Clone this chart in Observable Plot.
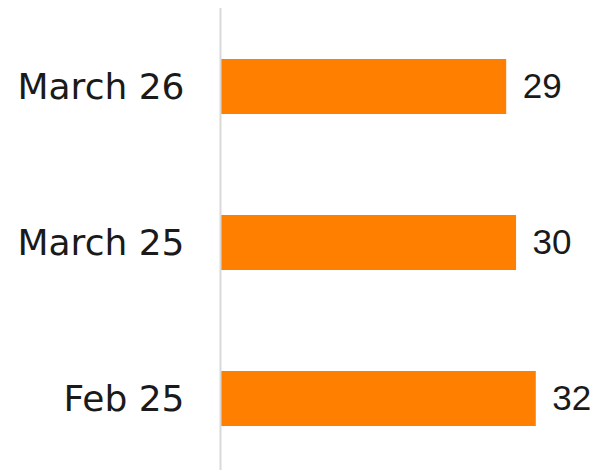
<!DOCTYPE html>
<html>
<head>
<meta charset="utf-8">
<script src="https://cdn.jsdelivr.net/npm/d3@7"></script>
<script src="https://cdn.jsdelivr.net/npm/@observablehq/plot@0.6"></script>
<style>
  html, body { margin: 0; padding: 0; background: #fff; }
</style>
</head>
<body>
<div id="chart"></div>
<script>
const categories = ["March 26", "March 25", "Feb 25"];
const values = [29, 30, 32];

const data = categories.map((c, i) => ({ category: c, value: values[i] }));

const chart = Plot.plot({
  width: 595,
  height: 474,
  marginLeft: 220,
  marginRight: 0,
  marginTop: 8,
  marginBottom: 4,
  style: { background: "#fff", color: "#1a1a1a" },
  x: { domain: [0, 38], axis: null },
  y: { domain: categories, range: [8, 477], paddingInner: 0.65, paddingOuter: 0.325, label: null },
  marks: [
    Plot.barX(data, { x: "value", y: "category", fill: "#ff7f00" }),
    Plot.ruleX([0], { stroke: "#d9d9d9", strokeWidth: 2 }),
    Plot.text(data, {
      x: "value", y: "category", text: d => String(d.value),
      dx: 16, textAnchor: "start", fontSize: 35, fill: "#1a1a1a",
      fontFamily: "Liberation Sans, Arial, sans-serif"
    }),
    Plot.axisY({
      tickSize: 0, tickPadding: 36, fontSize: 36, label: null,
      fontFamily: "DejaVu Sans, sans-serif", fill: "#1a1a1a"
    })
  ]
});

document.getElementById("chart").appendChild(chart);
</script>
</body>
</html>
